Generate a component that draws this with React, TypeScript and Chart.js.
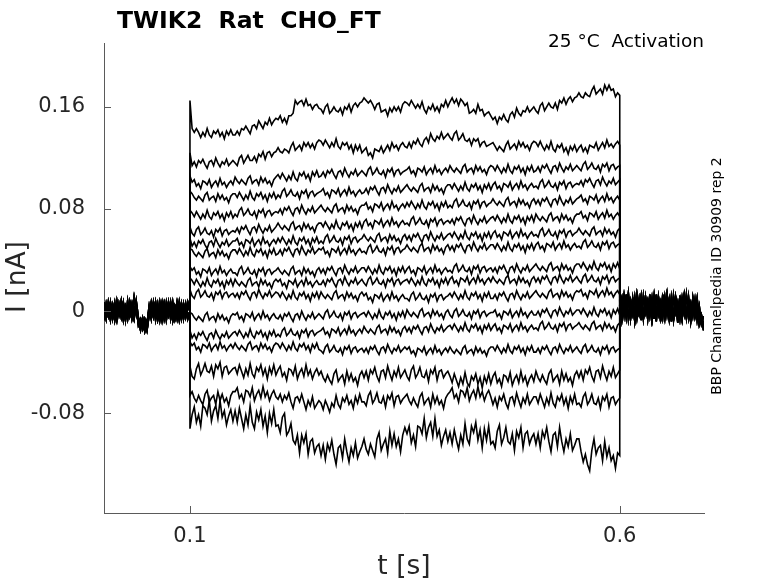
import React, { useEffect, useRef } from "react";
import { Chart, registerables } from "chart.js";

Chart.register(...registerables);

const TITLE = "TWIK2  Rat  CHO_FT";
const SUBTITLE = "25 °C  Activation";
const SIDE_NOTE = "BBP Channelpedia ID 30909 rep 2";
const X_TITLE = "t [s]";
const Y_TITLE = "I [nA]";

const X_TICKS = [0.1, 0.6];
const X_TICK_LABELS = ["0.1", "0.6"];
const Y_TICKS = [-0.08, 0, 0.08, 0.16];
const Y_TICK_LABELS = ["-0.08", "0", "0.08", "0.16"];

// time samples (s)
const PRE_T = [0, 0.0025, 0.005, 0.0075, 0.01, 0.0125, 0.015, 0.0175, 0.02, 0.0225, 0.025, 0.0275, 0.03, 0.0325, 0.035, 0.0375, 0.04, 0.0425, 0.045, 0.0475, 0.05, 0.0525, 0.055, 0.0575, 0.06, 0.0625, 0.065, 0.0675, 0.07, 0.0725, 0.075, 0.0775, 0.08, 0.0825, 0.085, 0.0875, 0.09, 0.0925, 0.095, 0.0975, 0.1];
const STEP_T = [0.1,
  0.1025, 0.105, 0.1075, 0.11, 0.1125, 0.115, 0.1175, 0.12, 0.1225, 0.125, 0.1275, 0.13, 0.1325, 0.135, 0.1375, 0.14, 0.1425, 0.145, 0.1475, 0.15,
  0.1525, 0.155, 0.1575, 0.16, 0.1625, 0.165, 0.1675, 0.17, 0.1725, 0.175, 0.1775, 0.18, 0.1825, 0.185, 0.1875, 0.19, 0.1925, 0.195, 0.1975, 0.2,
  0.2025, 0.205, 0.2075, 0.21, 0.2125, 0.215, 0.2175, 0.22, 0.2225, 0.225, 0.2275, 0.23, 0.2325, 0.235, 0.2375, 0.24, 0.2425, 0.245, 0.2475, 0.25,
  0.2525, 0.255, 0.2575, 0.26, 0.2625, 0.265, 0.2675, 0.27, 0.2725, 0.275, 0.2775, 0.28, 0.2825, 0.285, 0.2875, 0.29, 0.2925, 0.295, 0.2975, 0.3,
  0.3025, 0.305, 0.3075, 0.31, 0.3125, 0.315, 0.3175, 0.32, 0.3225, 0.325, 0.3275, 0.33, 0.3325, 0.335, 0.3375, 0.34, 0.3425, 0.345, 0.3475, 0.35,
  0.3525, 0.355, 0.3575, 0.36, 0.3625, 0.365, 0.3675, 0.37, 0.3725, 0.375, 0.3775, 0.38, 0.3825, 0.385, 0.3875, 0.39, 0.3925, 0.395, 0.3975, 0.4,
  0.4025, 0.405, 0.4075, 0.41, 0.4125, 0.415, 0.4175, 0.42, 0.4225, 0.425, 0.4275, 0.43, 0.4325, 0.435, 0.4375, 0.44, 0.4425, 0.445, 0.4475, 0.45,
  0.4525, 0.455, 0.4575, 0.46, 0.4625, 0.465, 0.4675, 0.47, 0.4725, 0.475, 0.4775, 0.48, 0.4825, 0.485, 0.4875, 0.49, 0.4925, 0.495, 0.4975, 0.5,
  0.5025, 0.505, 0.5075, 0.51, 0.5125, 0.515, 0.5175, 0.52, 0.5225, 0.525, 0.5275, 0.53, 0.5325, 0.535, 0.5375, 0.54, 0.5425, 0.545, 0.5475, 0.55,
  0.5525, 0.555, 0.5575, 0.56, 0.5625, 0.565, 0.5675, 0.57, 0.5725, 0.575, 0.5775, 0.58, 0.5825, 0.585, 0.5875, 0.59, 0.5925, 0.595, 0.5975, 0.6];
const POST_T = [0.6, 0.6025, 0.605, 0.6075, 0.61, 0.6125, 0.615, 0.6175, 0.62, 0.6225, 0.625, 0.6275, 0.63, 0.6325, 0.635, 0.6375, 0.64, 0.6425, 0.645, 0.6475, 0.65, 0.6525, 0.655, 0.6575, 0.66, 0.6625, 0.665, 0.6675, 0.67, 0.6725, 0.675, 0.6775, 0.68, 0.6825, 0.685, 0.6875, 0.69, 0.6925, 0.695, 0.6975];

// holding baseline before the step (pA)
const PRE_A = [3, -6, 7, -3, 5, -7, 4, -2, 8, -5, 3, -6, 7, -3, 11, 0, -9, -6, -14, -8, -15, -3, 6, -4, 7, -6, 4, -7, 6, -3, 7, -6, 4, -5, 7, -3, 6, -6, 4, -5, 0];
const PRE_B = [-5, 6, -3, 7, -6, 3, -7, 6, -2, 7, -6, 4, -3, 6, -5, 8, -5, -12, -7, -16, -10, 4, -6, 7, -3, 6, -7, 4, -5, 7, -3, 6, -7, 3, -6, 7, -5, 6, -3, 7, 0];
const PRE_C = [7, -2, 4, -7, 3, -5, 8, -3, 6, -7, 4, -2, 6, -6, 3, 4, -11, -7, -13, -6, -12, 2, -5, 6, -7, 3, -2, 7, -6, 4, -3, 7, -7, 4, -2, 6, -6, 3, -5, 4, 0];
const PRE_D = [-7, 3, -4, 6, -2, 7, -6, 3, -5, 6, -7, 8, -4, 3, -6, 5, -8, -15, -5, -11, -7, -4, 7, -2, 4, -6, 7, -3, 6, -7, 3, -4, 7, -6, 3, -7, 4, -2, 6, -6, 0];

// baseline after the step (pA)
const POST_A = [8, -4, 12, -2, 10, -6, 9, -3, 13, -1, 7, -5, 11, -2, 9, -6, 12, -3, 8, -5, 10, -2, 13, -4, 7, -6, 11, -1, 9, -5, 12, -3, 8, -7, 10, -4, 6, -9, -3, -12];
const POST_B = [14, 2, 9, -5, 11, -3, 6, -7, 10, 0, 12, -4, 8, -6, 13, -2, 7, -8, 11, -3, 9, -5, 12, -1, 6, -7, 10, -2, 8, -6, 11, -4, 7, -8, 9, -3, 5, -11, -6, -15];
const POST_C = [5, 11, -3, 13, -6, 8, -2, 11, -5, 9, -7, 12, -1, 8, -4, 10, -6, 13, -2, 7, -5, 11, -3, 9, -8, 12, -1, 7, -6, 10, -2, 13, -5, 6, -4, 9, -7, 4, -10, -4];
const POST_D = [10, -7, 6, -1, 14, -4, 10, -8, 7, -2, 11, -6, 9, -3, 12, -7, 6, -1, 10, -8, 13, -4, 8, -6, 11, -3, 7, -9, 12, -2, 9, -5, 11, -6, 7, -2, 10, -6, -9, -8];

// currents during the voltage step (pA): onset value, then one row per 50 ms
const TRACE_01 = [165,
  143, 140, 143, 140, 136, 140, 137, 143, 138, 136, 141, 139, 142, 137, 140, 135, 141, 138, 142, 138,
  138, 141, 138, 143, 142, 145, 142, 139, 145, 146, 143, 149, 146, 143, 148, 146, 151, 146, 149, 151,
  150, 153, 148, 151, 147, 153, 153, 155, 165, 162, 164, 165, 161, 166, 161, 162, 158, 161, 162, 159,
  158, 155, 160, 162, 155, 157, 160, 157, 156, 159, 154, 160, 158, 162, 156, 161, 163, 160, 163, 164,
  167, 165, 163, 165, 162, 158, 162, 163, 156, 157, 158, 153, 159, 156, 160, 157, 160, 156, 162, 164,
  163, 161, 165, 162, 159, 162, 159, 164, 158, 155, 160, 158, 162, 157, 160, 156, 162, 160, 165, 160,
  164, 167, 163, 166, 161, 166, 164, 161, 163, 155, 156, 158, 155, 162, 157, 158, 153, 155, 156, 153,
  150, 152, 147, 152, 150, 154, 150, 148, 154, 156, 152, 159, 155, 153, 157, 156, 160, 156, 158, 160,
  157, 155, 161, 163, 157, 160, 163, 160, 159, 163, 158, 165, 163, 167, 162, 166, 168, 164, 167, 168,
  171, 168, 167, 171, 169, 168, 173, 176, 170, 172, 174, 170, 177, 173, 177, 173, 174, 168, 171, 169];
const TRACE_02 = [124,
  114, 117, 113, 118, 116, 119, 115, 112, 117, 118, 114, 120, 116, 113, 117, 115, 119, 114, 116, 118,
  116, 114, 120, 122, 116, 119, 122, 118, 118, 121, 117, 123, 121, 125, 119, 124, 125, 121, 124, 125,
  128, 125, 124, 127, 126, 124, 129, 132, 126, 128, 130, 126, 132, 129, 132, 128, 131, 127, 132, 134,
  133, 130, 134, 131, 128, 132, 129, 135, 129, 127, 132, 130, 132, 127, 130, 124, 130, 126, 130, 124,
  126, 128, 122, 124, 120, 127, 126, 125, 129, 124, 127, 130, 126, 132, 128, 130, 126, 130, 132, 129,
  128, 132, 128, 133, 131, 135, 131, 129, 134, 136, 132, 139, 135, 133, 137, 135, 140, 135, 137, 139,
  136, 134, 139, 141, 134, 136, 139, 134, 133, 135, 130, 135, 133, 135, 129, 132, 133, 129, 130, 131,
  132, 129, 126, 129, 127, 125, 130, 133, 127, 129, 131, 127, 133, 129, 132, 128, 130, 126, 131, 133,
  132, 129, 133, 129, 126, 130, 127, 133, 127, 125, 130, 128, 131, 125, 128, 123, 129, 126, 130, 125,
  128, 130, 125, 128, 124, 130, 129, 128, 132, 126, 129, 132, 128, 134, 129, 131, 128, 131, 133, 130];
const TRACE_03 = [106,
  101, 103, 98, 100, 96, 102, 101, 99, 103, 97, 100, 102, 98, 104, 99, 101, 97, 100, 102, 99,
  105, 102, 100, 103, 101, 99, 104, 106, 100, 102, 103, 99, 105, 101, 104, 100, 102, 98, 103, 105,
  107, 104, 108, 105, 102, 106, 103, 109, 104, 102, 108, 106, 109, 104, 107, 102, 109, 106, 110, 105,
  106, 109, 105, 110, 108, 111, 107, 104, 109, 110, 106, 112, 108, 105, 109, 107, 111, 106, 108, 110,
  108, 106, 111, 113, 107, 109, 112, 108, 107, 110, 105, 111, 109, 112, 106, 110, 111, 107, 109, 110,
  111, 113, 108, 110, 106, 112, 111, 109, 113, 107, 110, 112, 108, 114, 109, 111, 107, 110, 112, 109,
  114, 111, 109, 112, 110, 108, 113, 115, 109, 111, 112, 108, 114, 110, 113, 109, 111, 107, 112, 114,
  113, 110, 114, 111, 108, 112, 109, 115, 110, 108, 113, 111, 114, 109, 112, 107, 113, 110, 114, 109,
  110, 113, 109, 114, 112, 115, 111, 108, 113, 114, 110, 116, 112, 109, 113, 111, 115, 110, 112, 114,
  112, 110, 115, 117, 111, 113, 116, 112, 111, 114, 109, 115, 113, 116, 110, 114, 115, 111, 113, 114];
const TRACE_04 = [94,
  92, 89, 87, 90, 88, 86, 91, 93, 87, 89, 90, 86, 92, 88, 91, 87, 89, 85, 90, 92,
  92, 89, 93, 90, 87, 91, 88, 94, 89, 87, 92, 90, 93, 88, 91, 86, 92, 89, 93, 88,
  91, 89, 94, 96, 90, 92, 95, 91, 90, 93, 88, 94, 92, 95, 89, 93, 94, 90, 92, 93,
  94, 96, 91, 93, 89, 95, 94, 92, 96, 90, 93, 95, 91, 97, 92, 94, 90, 93, 95, 92,
  93, 96, 92, 97, 95, 98, 94, 91, 96, 97, 93, 99, 95, 92, 96, 94, 98, 93, 95, 97,
  99, 96, 94, 97, 95, 93, 98, 100, 94, 96, 97, 93, 99, 95, 98, 94, 96, 92, 97, 99,
  99, 96, 100, 97, 94, 98, 95, 101, 96, 94, 99, 97, 100, 95, 98, 93, 99, 96, 100, 95,
  99, 101, 96, 98, 94, 100, 99, 97, 101, 95, 98, 100, 96, 102, 97, 99, 95, 98, 100, 97,
  98, 96, 101, 103, 97, 99, 102, 98, 97, 100, 95, 101, 99, 102, 96, 100, 101, 97, 99, 100,
  99, 102, 98, 103, 101, 104, 100, 97, 102, 103, 99, 105, 101, 98, 102, 100, 104, 99, 101, 103];
const TRACE_05 = [79,
  77, 74, 78, 75, 72, 76, 73, 79, 74, 72, 77, 75, 78, 73, 76, 71, 77, 74, 78, 73,
  76, 74, 79, 81, 75, 77, 80, 76, 75, 78, 73, 79, 77, 80, 74, 78, 79, 75, 77, 78,
  77, 80, 76, 81, 79, 82, 78, 75, 80, 81, 77, 83, 79, 76, 80, 78, 82, 77, 79, 81,
  83, 80, 78, 81, 79, 77, 82, 84, 78, 80, 81, 77, 83, 79, 82, 78, 80, 76, 81, 83,
  83, 85, 80, 82, 78, 84, 83, 81, 85, 79, 82, 84, 80, 86, 81, 83, 79, 82, 84, 81,
  85, 82, 86, 83, 80, 84, 81, 87, 82, 80, 85, 83, 86, 81, 84, 79, 85, 82, 86, 81,
  83, 81, 86, 88, 82, 84, 87, 83, 82, 85, 80, 86, 84, 87, 81, 85, 86, 82, 84, 85,
  88, 85, 83, 86, 84, 82, 87, 89, 83, 85, 86, 82, 88, 84, 87, 83, 85, 81, 86, 88,
  84, 87, 83, 88, 86, 89, 85, 82, 87, 88, 84, 90, 86, 83, 87, 85, 89, 84, 86, 88,
  89, 91, 86, 88, 84, 90, 89, 87, 91, 85, 88, 90, 86, 92, 87, 89, 85, 88, 90, 87];
const TRACE_06 = [66,
  61, 59, 64, 66, 60, 62, 65, 61, 60, 63, 58, 64, 62, 65, 59, 63, 64, 60, 62, 63,
  62, 65, 61, 66, 64, 67, 63, 60, 65, 66, 62, 68, 64, 61, 65, 63, 67, 62, 64, 66,
  69, 66, 64, 67, 65, 63, 68, 70, 64, 66, 67, 63, 69, 65, 68, 64, 66, 62, 67, 69,
  69, 66, 70, 67, 64, 68, 65, 71, 66, 64, 69, 67, 70, 65, 68, 63, 69, 66, 70, 65,
  70, 72, 67, 69, 65, 71, 70, 68, 72, 66, 69, 71, 67, 73, 68, 70, 66, 69, 71, 68,
  69, 67, 72, 74, 68, 70, 73, 69, 68, 71, 66, 72, 70, 73, 67, 71, 72, 68, 70, 71,
  69, 72, 68, 73, 71, 74, 70, 67, 72, 73, 69, 75, 71, 68, 72, 70, 74, 69, 71, 73,
  74, 71, 75, 72, 69, 73, 70, 76, 71, 69, 74, 72, 75, 70, 73, 68, 74, 71, 75, 70,
  76, 73, 71, 74, 72, 70, 75, 77, 71, 73, 74, 70, 76, 72, 75, 71, 73, 69, 74, 76,
  76, 78, 73, 75, 71, 77, 76, 74, 78, 72, 75, 77, 73, 79, 74, 76, 72, 75, 77, 74];
const TRACE_07 = [57,
  51, 54, 50, 55, 53, 56, 52, 49, 54, 55, 51, 57, 53, 50, 54, 52, 56, 51, 53, 55,
  55, 57, 52, 54, 50, 56, 55, 53, 57, 51, 54, 56, 52, 58, 53, 55, 51, 54, 56, 53,
  57, 54, 58, 55, 52, 56, 53, 59, 54, 52, 57, 55, 58, 53, 56, 51, 57, 54, 58, 53,
  55, 53, 58, 60, 54, 56, 59, 55, 54, 57, 52, 58, 56, 59, 53, 57, 58, 54, 56, 57,
  60, 57, 55, 58, 56, 54, 59, 61, 55, 57, 58, 54, 60, 56, 59, 55, 57, 53, 58, 60,
  56, 59, 55, 60, 58, 61, 57, 54, 59, 60, 56, 62, 58, 55, 59, 57, 61, 56, 58, 60,
  61, 58, 62, 59, 56, 60, 57, 63, 58, 56, 61, 59, 62, 57, 60, 55, 61, 58, 62, 57,
  61, 63, 58, 60, 56, 62, 61, 59, 63, 57, 60, 62, 58, 64, 59, 61, 57, 60, 62, 59,
  60, 58, 63, 65, 59, 61, 64, 60, 59, 62, 57, 63, 61, 64, 58, 62, 63, 59, 61, 62,
  65, 62, 60, 63, 61, 59, 64, 66, 60, 62, 63, 59, 65, 61, 64, 60, 62, 58, 63, 65];
const TRACE_08 = [49,
  48, 45, 43, 46, 44, 42, 47, 49, 43, 45, 46, 42, 48, 44, 47, 43, 45, 41, 46, 48,
  48, 45, 49, 46, 43, 47, 44, 50, 45, 43, 48, 46, 49, 44, 47, 42, 48, 45, 49, 44,
  45, 48, 44, 49, 47, 50, 46, 43, 48, 49, 45, 51, 47, 44, 48, 46, 50, 45, 47, 49,
  48, 50, 45, 47, 43, 49, 48, 46, 50, 44, 47, 49, 45, 51, 46, 48, 44, 47, 49, 46,
  47, 45, 50, 52, 46, 48, 51, 47, 46, 49, 44, 50, 48, 51, 45, 49, 50, 46, 48, 49,
  52, 49, 47, 50, 48, 46, 51, 53, 47, 49, 50, 46, 52, 48, 51, 47, 49, 45, 50, 52,
  48, 51, 47, 52, 50, 53, 49, 46, 51, 52, 48, 54, 50, 47, 51, 49, 53, 48, 50, 52,
  52, 49, 53, 50, 47, 51, 48, 54, 49, 47, 52, 50, 53, 48, 51, 46, 52, 49, 53, 48,
  52, 54, 49, 51, 47, 53, 52, 50, 54, 48, 51, 53, 49, 55, 50, 52, 48, 51, 53, 50,
  51, 49, 54, 56, 50, 52, 55, 51, 50, 53, 48, 54, 52, 55, 49, 53, 54, 50, 52, 53];
const TRACE_09 = [35,
  32, 34, 29, 31, 27, 33, 32, 30, 34, 28, 31, 33, 29, 35, 30, 32, 28, 31, 33, 30,
  30, 28, 33, 35, 29, 31, 34, 30, 29, 32, 27, 33, 31, 34, 28, 32, 33, 29, 31, 32,
  34, 31, 29, 32, 30, 28, 33, 35, 29, 31, 32, 28, 34, 30, 33, 29, 31, 27, 32, 34,
  30, 33, 29, 34, 32, 35, 31, 28, 33, 34, 30, 36, 32, 29, 33, 31, 35, 30, 32, 34,
  34, 31, 35, 32, 29, 33, 30, 36, 31, 29, 34, 32, 35, 30, 33, 28, 34, 31, 35, 30,
  33, 35, 30, 32, 28, 34, 33, 31, 35, 29, 32, 34, 30, 36, 31, 33, 29, 32, 34, 31,
  32, 30, 35, 37, 31, 33, 36, 32, 31, 34, 29, 35, 33, 36, 30, 34, 35, 31, 33, 34,
  31, 34, 30, 35, 33, 36, 32, 29, 34, 35, 31, 37, 33, 30, 34, 32, 36, 31, 33, 35,
  37, 34, 32, 35, 33, 31, 36, 38, 32, 34, 35, 31, 37, 33, 36, 32, 34, 30, 35, 37,
  37, 34, 38, 35, 32, 36, 33, 39, 34, 32, 37, 35, 38, 33, 36, 31, 37, 34, 38, 33];
const TRACE_10 = [26,
  24, 21, 25, 22, 19, 23, 20, 26, 21, 19, 24, 22, 25, 20, 23, 18, 24, 21, 25, 20,
  25, 22, 20, 23, 21, 19, 24, 26, 20, 22, 23, 19, 25, 21, 24, 20, 22, 18, 23, 25,
  23, 25, 20, 22, 18, 24, 23, 21, 25, 19, 22, 24, 20, 26, 21, 23, 19, 22, 24, 21,
  21, 24, 20, 25, 23, 26, 22, 19, 24, 25, 21, 27, 23, 20, 24, 22, 26, 21, 23, 25,
  22, 20, 25, 27, 21, 23, 26, 22, 21, 24, 19, 25, 23, 26, 20, 24, 25, 21, 23, 24,
  25, 22, 26, 23, 20, 24, 21, 27, 22, 20, 25, 23, 26, 21, 24, 19, 25, 22, 26, 21,
  25, 27, 22, 24, 20, 26, 25, 23, 27, 21, 24, 26, 22, 28, 23, 25, 21, 24, 26, 23,
  27, 24, 22, 25, 23, 21, 26, 28, 22, 24, 25, 21, 27, 23, 26, 22, 24, 20, 25, 27,
  23, 26, 22, 27, 25, 28, 24, 21, 26, 27, 23, 29, 25, 22, 26, 24, 28, 23, 25, 27,
  24, 22, 27, 29, 23, 25, 28, 24, 23, 26, 21, 27, 25, 28, 22, 26, 27, 23, 25, 26];
const TRACE_11 = [17,
  12, 10, 15, 17, 11, 13, 16, 12, 11, 14, 9, 15, 13, 16, 10, 14, 15, 11, 13, 14,
  11, 14, 10, 15, 13, 16, 12, 9, 14, 15, 11, 17, 13, 10, 14, 12, 16, 11, 13, 15,
  14, 11, 15, 12, 9, 13, 10, 16, 11, 9, 14, 12, 15, 10, 13, 8, 14, 11, 15, 10,
  15, 12, 10, 13, 11, 9, 14, 16, 10, 12, 13, 9, 15, 11, 14, 10, 12, 8, 13, 15,
  12, 14, 9, 11, 7, 13, 12, 10, 14, 8, 11, 13, 9, 15, 10, 12, 8, 11, 13, 10,
  10, 8, 13, 15, 9, 11, 14, 10, 9, 12, 7, 13, 11, 14, 8, 12, 13, 9, 11, 12,
  14, 11, 15, 12, 9, 13, 10, 16, 11, 9, 14, 12, 15, 10, 13, 8, 14, 11, 15, 10,
  10, 13, 9, 14, 12, 15, 11, 8, 13, 14, 10, 16, 12, 9, 13, 11, 15, 10, 12, 14,
  16, 13, 11, 14, 12, 10, 15, 17, 11, 13, 14, 10, 16, 12, 15, 11, 13, 9, 14, 16,
  15, 17, 12, 14, 10, 16, 15, 13, 17, 11, 14, 16, 12, 18, 13, 15, 11, 14, 16, 13];
const TRACE_12 = [-1,
  -2, -5, -7, -4, -6, -8, -3, -1, -7, -5, -4, -8, -2, -6, -3, -7, -5, -9, -4, -2,
  -3, -1, -6, -4, -8, -2, -3, -5, -1, -7, -4, -2, -6, 0, -5, -3, -7, -4, -2, -5,
  -6, -3, -7, -2, -4, -1, -5, -8, -3, -2, -6, 0, -4, -7, -3, -5, -1, -6, -4, -2,
  -4, -6, -1, 1, -5, -3, 0, -4, -5, -2, -7, -1, -3, 0, -6, -2, -1, -5, -3, -2,
  -1, -4, 0, -3, -6, -2, -5, 1, -4, -6, -1, -3, 0, -5, -2, -7, -1, -4, 0, -5,
  1, -2, -4, -1, -3, -5, 0, 2, -4, -2, -1, -5, 1, -3, 0, -4, -2, -6, -1, 1,
  -3, -5, 0, 2, -4, -2, 1, -3, -4, -1, -6, 0, -2, 1, -5, -1, 0, -4, -2, -1,
  -1, 1, -4, -2, -6, 0, -1, -3, 1, -5, -2, 0, -4, 2, -3, -1, -5, -2, 0, -3,
  -3, 0, -4, 1, -1, 2, -2, -5, 0, 1, -3, 3, -1, -4, 0, -2, 2, -3, -1, 1,
  1, -2, 2, -1, -4, 0, -3, 3, -2, -4, 1, -1, 2, -3, 0, -5, 1, -2, 2, -3];
const TRACE_13 = [-15,
  -21, -18, -22, -17, -19, -16, -20, -23, -18, -17, -21, -15, -19, -22, -18, -20, -16, -21, -19, -17,
  -16, -19, -15, -18, -21, -17, -20, -14, -19, -21, -16, -18, -15, -20, -17, -22, -16, -19, -15, -20,
  -18, -20, -15, -13, -19, -17, -14, -18, -19, -16, -21, -15, -17, -14, -20, -16, -15, -19, -17, -16,
  -15, -13, -18, -16, -20, -14, -15, -17, -13, -19, -16, -14, -18, -12, -17, -15, -19, -16, -14, -17,
  -12, -15, -17, -14, -16, -18, -13, -11, -17, -15, -14, -18, -12, -16, -13, -17, -15, -19, -14, -12,
  -16, -13, -17, -12, -14, -11, -15, -18, -13, -12, -16, -10, -14, -17, -13, -15, -11, -16, -14, -12,
  -11, -14, -10, -13, -16, -12, -15, -9, -14, -16, -11, -13, -10, -15, -12, -17, -11, -14, -10, -15,
  -12, -10, -15, -13, -17, -11, -12, -14, -10, -16, -13, -11, -15, -9, -14, -12, -16, -13, -11, -14,
  -13, -15, -10, -8, -14, -12, -9, -13, -14, -11, -16, -10, -12, -9, -15, -11, -10, -14, -12, -11,
  -9, -12, -14, -11, -13, -15, -10, -8, -14, -12, -11, -15, -9, -13, -10, -14, -12, -16, -11, -9];
const TRACE_14 = [-24,
  -27, -25, -30, -28, -32, -26, -27, -29, -25, -31, -28, -26, -30, -24, -29, -27, -31, -28, -26, -29,
  -25, -28, -30, -27, -29, -31, -26, -24, -30, -28, -27, -31, -25, -29, -26, -30, -28, -32, -27, -25,
  -26, -29, -25, -28, -31, -27, -30, -24, -29, -31, -26, -28, -25, -30, -27, -32, -26, -29, -25, -30,
  -31, -33, -28, -26, -32, -30, -27, -31, -32, -29, -34, -28, -30, -27, -33, -29, -28, -32, -30, -29,
  -32, -29, -33, -28, -30, -27, -31, -34, -29, -28, -32, -26, -30, -33, -29, -31, -27, -32, -30, -28,
  -30, -28, -33, -31, -35, -29, -30, -32, -28, -34, -31, -29, -33, -27, -32, -30, -34, -31, -29, -32,
  -28, -31, -33, -30, -32, -34, -29, -27, -33, -31, -30, -34, -28, -32, -29, -33, -31, -35, -30, -28,
  -28, -31, -27, -30, -33, -29, -32, -26, -31, -33, -28, -30, -27, -32, -29, -34, -28, -31, -27, -32,
  -32, -29, -33, -28, -30, -27, -31, -34, -29, -28, -32, -26, -30, -33, -29, -31, -27, -32, -30, -28,
  -31, -33, -28, -26, -32, -30, -27, -31, -32, -29, -34, -28, -30, -27, -33, -29, -28, -32, -30, -29];
const TRACE_15 = [-43,
  -51, -53, -45, -41, -50, -46, -41, -47, -48, -43, -51, -42, -45, -40, -51, -44, -43, -49, -47, -45,
  -44, -49, -42, -47, -52, -45, -50, -41, -49, -52, -44, -47, -42, -50, -45, -53, -44, -49, -42, -50,
  -46, -43, -51, -48, -54, -45, -46, -50, -43, -53, -48, -45, -51, -42, -50, -46, -53, -48, -45, -50,
  -47, -52, -55, -50, -54, -57, -49, -46, -55, -52, -50, -57, -47, -54, -49, -55, -52, -58, -50, -47,
  -52, -47, -54, -46, -49, -44, -51, -55, -47, -46, -52, -43, -49, -54, -47, -51, -44, -52, -49, -46,
  -51, -54, -46, -43, -52, -49, -44, -51, -52, -47, -55, -46, -49, -44, -54, -47, -46, -52, -49, -47,
  -51, -56, -49, -54, -59, -52, -57, -48, -56, -59, -51, -54, -49, -57, -52, -60, -51, -56, -49, -57,
  -51, -48, -56, -53, -59, -50, -51, -55, -48, -58, -53, -50, -56, -47, -55, -51, -58, -53, -50, -55,
  -47, -52, -55, -50, -54, -57, -49, -46, -55, -52, -50, -57, -47, -54, -49, -55, -52, -58, -50, -47,
  -52, -47, -54, -46, -49, -44, -51, -55, -47, -46, -52, -43, -49, -54, -47, -51, -44, -52, -49, -46];
const TRACE_16 = [-66,
  -63, -68, -71, -66, -70, -73, -65, -62, -71, -68, -66, -73, -63, -70, -65, -71, -68, -74, -66, -63,
  -63, -60, -68, -65, -71, -62, -63, -67, -60, -70, -65, -62, -68, -59, -67, -63, -70, -65, -62, -67,
  -69, -65, -71, -66, -69, -64, -71, -76, -68, -67, -71, -65, -71, -77, -70, -74, -67, -76, -73, -70,
  -72, -77, -70, -74, -79, -72, -75, -66, -73, -76, -68, -71, -66, -73, -70, -76, -67, -72, -65, -71,
  -71, -74, -66, -63, -72, -69, -64, -71, -72, -67, -75, -66, -69, -64, -74, -67, -66, -72, -69, -67,
  -65, -70, -73, -68, -72, -75, -67, -64, -73, -70, -68, -75, -65, -72, -67, -73, -70, -76, -68, -65,
  -63, -60, -68, -65, -71, -62, -63, -67, -60, -70, -65, -62, -68, -59, -67, -63, -70, -65, -62, -67,
  -73, -68, -75, -67, -70, -65, -72, -76, -68, -67, -73, -64, -70, -75, -68, -72, -65, -73, -70, -67,
  -67, -72, -65, -70, -75, -68, -73, -64, -72, -75, -67, -70, -65, -73, -68, -76, -67, -72, -65, -73,
  -72, -75, -67, -64, -73, -70, -65, -72, -73, -68, -76, -67, -70, -65, -75, -68, -67, -73, -70, -68];
const TRACE_17 = [-92,
  -81, -75, -87, -81, -90, -74, -76, -81, -70, -86, -78, -74, -84, -70, -83, -78, -89, -82, -77, -86,
  -78, -87, -76, -84, -92, -81, -89, -74, -87, -92, -79, -85, -77, -90, -82, -95, -80, -88, -77, -90,
  -89, -95, -83, -80, -97, -94, -88, -101, -104, -97, -111, -97, -103, -96, -112, -102, -100, -111, -106, -104,
  -113, -105, -116, -104, -109, -101, -112, -120, -107, -105, -115, -100, -110, -118, -107, -113, -103, -115, -110, -106,
  -100, -108, -112, -104, -109, -114, -100, -95, -109, -104, -100, -111, -94, -105, -96, -106, -100, -110, -97, -91,
  -96, -90, -103, -97, -106, -90, -91, -96, -84, -99, -91, -87, -98, -84, -98, -93, -105, -98, -93, -102,
  -95, -104, -93, -101, -108, -97, -104, -88, -100, -104, -90, -95, -87, -101, -93, -107, -92, -101, -90, -104,
  -102, -107, -94, -89, -104, -99, -91, -102, -104, -96, -109, -94, -99, -91, -107, -96, -94, -104, -99, -96,
  -104, -96, -107, -94, -99, -91, -102, -110, -97, -95, -106, -91, -102, -110, -100, -106, -96, -109, -105, -100,
  -100, -110, -118, -112, -120, -125, -109, -100, -112, -107, -105, -117, -102, -114, -107, -117, -113, -123, -111, -113];

const TRACES = [TRACE_01, TRACE_02, TRACE_03, TRACE_04, TRACE_05, TRACE_06, TRACE_07, TRACE_08, TRACE_09, TRACE_10, TRACE_11, TRACE_12, TRACE_13, TRACE_14, TRACE_15, TRACE_16, TRACE_17];
const PRES = [PRE_A, PRE_B, PRE_C, PRE_D];
const POSTS = [POST_A, POST_B, POST_C, POST_D];

const AXIS_COLOR = "#5a5a5a";
const TEXT_COLOR = "#262626";
const FONT = '"DejaVu Sans", "Liberation Sans", sans-serif';

function buildSweep(i: number) {
  const pre = PRES[i % PRES.length];
  const post = POSTS[i % POSTS.length];
  const step = TRACES[i];
  const pts: { x: number; y: number }[] = [];
  const nPre = Math.min(PRE_T.length, pre.length);
  const nStep = Math.min(STEP_T.length, step.length);
  const nPost = Math.min(POST_T.length, post.length);
  for (let k = 0; k < nPre; k++) pts.push({ x: PRE_T[k], y: pre[k] / 1000 });
  for (let k = 0; k < nStep; k++) pts.push({ x: STEP_T[k], y: step[k] / 1000 });
  for (let k = 0; k < nPost; k++) pts.push({ x: POST_T[k], y: post[k] / 1000 });
  return pts;
}

const decorPlugin = {
  id: "decor",
  afterDraw(chart: any) {
    const { ctx, chartArea, scales } = chart;
    const xs = scales.x;
    const ys = scales.y;
    ctx.save();
    ctx.strokeStyle = AXIS_COLOR;
    ctx.lineWidth = 1;
    ctx.beginPath();
    Y_TICKS.forEach((v) => {
      const y = Math.round(ys.getPixelForValue(v)) + 0.5;
      ctx.moveTo(chartArea.left, y);
      ctx.lineTo(chartArea.left + 7, y);
    });
    X_TICKS.forEach((v) => {
      const x = Math.round(xs.getPixelForValue(v)) + 0.5;
      ctx.moveTo(x, chartArea.bottom);
      ctx.lineTo(x, chartArea.bottom - 7);
    });
    ctx.stroke();

    ctx.fillStyle = "#000";
    ctx.textBaseline = "alphabetic";
    ctx.textAlign = "left";
    ctx.font = `bold 23.5px ${FONT}`;
    ctx.fillText(TITLE, 117, 28);

    ctx.textAlign = "right";
    ctx.font = `18.5px ${FONT}`;
    ctx.fillText(SUBTITLE, 704, 47);

    ctx.save();
    ctx.translate(717, 276);
    ctx.rotate(-Math.PI / 2);
    ctx.textAlign = "center";
    ctx.textBaseline = "middle";
    ctx.font = `14px ${FONT}`;
    ctx.fillText(SIDE_NOTE, 0, 0);
    ctx.restore();

    ctx.fillStyle = TEXT_COLOR;
    ctx.save();
    ctx.translate(18, 277);
    ctx.rotate(-Math.PI / 2);
    ctx.textAlign = "center";
    ctx.textBaseline = "middle";
    ctx.font = `26.5px ${FONT}`;
    ctx.fillText(Y_TITLE, 0, 0);
    ctx.restore();

    ctx.textAlign = "center";
    ctx.textBaseline = "middle";
    ctx.font = `26.5px ${FONT}`;
    ctx.fillText(X_TITLE, 404, 567);
    ctx.restore();
  },
};

export default function App() {
  const canvasRef = useRef<HTMLCanvasElement | null>(null);

  useEffect(() => {
    const canvas = canvasRef.current;
    if (!canvas) return;
    const datasets = TRACES.map((_, i) => ({
      label: `sweep ${i + 1}`,
      data: buildSweep(i),
      borderColor: "#000000",
      borderWidth: 1.6,
      pointRadius: 0,
      tension: 0,
      fill: false,
    }));
    const chart = new Chart(canvas, {
      type: "line",
      data: { datasets },
      options: {
        animation: false,
        responsive: false,
        parsing: false as any,
        events: [],
        layout: { padding: { left: 0, right: 74, top: 43, bottom: 30 } },
        plugins: {
          legend: { display: false },
          title: { display: false },
          tooltip: { enabled: false },
        },
        scales: {
          x: {
            type: "linear",
            min: 0,
            max: 0.698,
            grid: { display: false },
            border: { display: true, color: AXIS_COLOR, width: 1 },
            afterBuildTicks: (s: any) => {
              s.ticks = X_TICKS.map((v) => ({ value: v }));
            },
            afterFit: (s: any) => {
              s.height = 40;
            },
            ticks: {
              autoSkip: false,
              maxRotation: 0,
              padding: 3,
              color: TEXT_COLOR,
              font: { family: FONT, size: 21 },
              callback: (_v: any, idx: number) => X_TICK_LABELS[idx],
            },
          },
          y: {
            type: "linear",
            min: -0.158,
            max: 0.21,
            grid: { display: false },
            border: { display: true, color: AXIS_COLOR, width: 1 },
            afterBuildTicks: (s: any) => {
              s.ticks = Y_TICKS.map((v) => ({ value: v }));
            },
            afterFit: (s: any) => {
              s.width = 104;
            },
            ticks: {
              autoSkip: false,
              padding: 11,
              color: TEXT_COLOR,
              font: { family: FONT, size: 21 },
              callback: (_v: any, idx: number) => Y_TICK_LABELS[idx],
            },
          },
        },
      },
      plugins: [decorPlugin],
    });
    return () => chart.destroy();
  }, []);

  return (
    <div style={{ position: "fixed", left: 0, top: 0, width: 778, height: 583, background: "#ffffff" }}>
      <canvas ref={canvasRef} width={778} height={583} style={{ display: "block", width: 778, height: 583 }} />
    </div>
  );
}
